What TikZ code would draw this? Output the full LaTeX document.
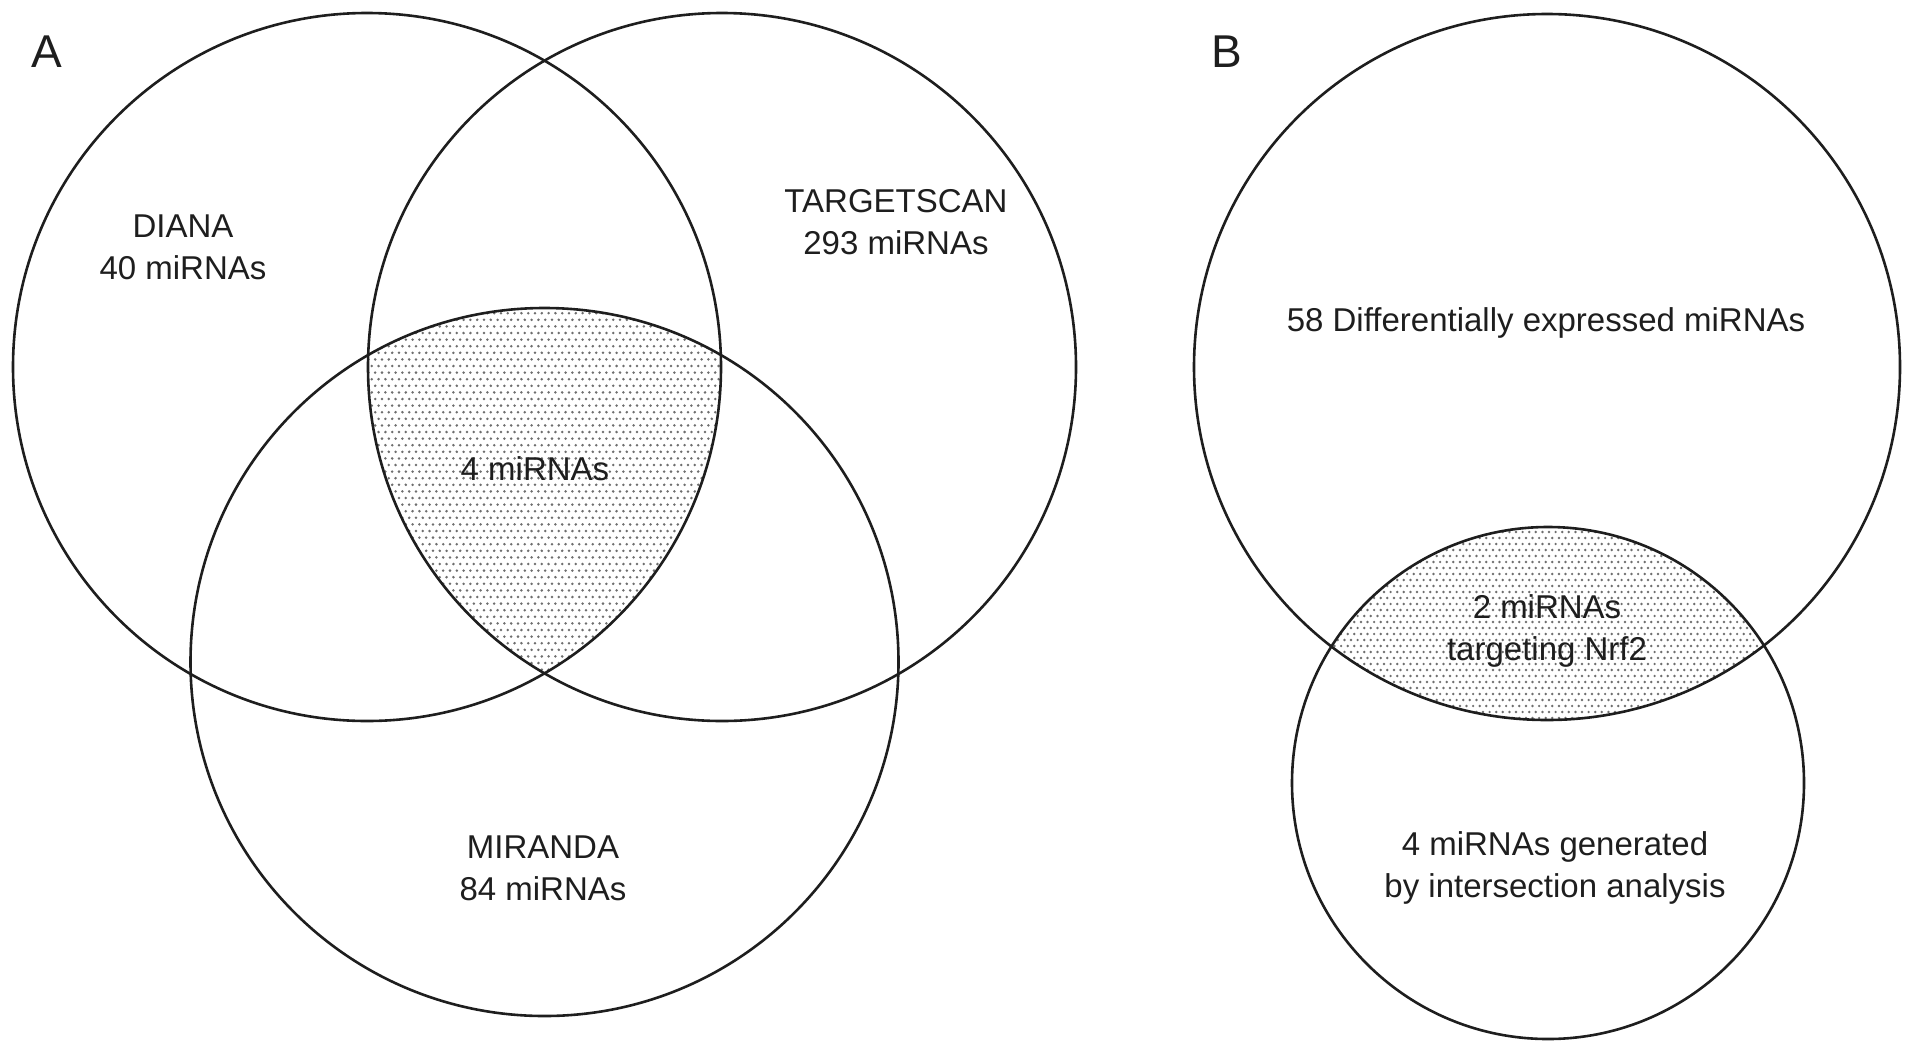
\documentclass[tikz,border=0pt]{standalone}
\usepackage{fontspec}
\setmainfont{Liberation Sans}
\definecolor{ink}{HTML}{1E1E1E}
\definecolor{dotc}{HTML}{6E6E6E}
\tikzset{
  venn/.style={draw=ink, line width=2.6pt},
  lbl/.style={text=ink, align=center, inner sep=0pt, font=\fontsize{33}{42}\selectfont},
  panel/.style={text=ink, inner sep=0pt, font=\fontsize{46}{50}\selectfont},
  dotfill/.style={fill=dotc}
}
\begin{document}
\begin{tikzpicture}[x=1pt,y=-1pt]
\useasboundingbox (0,0) rectangle (1913,1058);
% centres
\coordinate (c1) at (367,367);
\coordinate (c2) at (722,367);
\coordinate (c3) at (544.5,662);
\coordinate (b1) at (1547,367);
\coordinate (b2) at (1548,783);
% shading A
\begin{scope}
  \clip (c1) circle (354);
  \clip (c2) circle (354);
  \clip (c3) circle (354);
  \foreach \j in {0,...,66} {
    \foreach \i in {0,...,52} {
      \fill[dotfill] ({365+6.8*\i+3.4*mod(\j,2)},{300+6.6*\j}) circle (1.4);
    }
  }
\end{scope}
% shading B
\begin{scope}
  \clip (b1) circle (353);
  \clip (b2) circle (256);
  \foreach \j in {0,...,34} {
    \foreach \i in {0,...,80} {
      \fill[dotfill] ({1285+6.6*\i+3.3*mod(\j,2)},{520+6.0*\j}) circle (1.35);
    }
  }
\end{scope}
% circles
\draw[venn] (c1) circle (354);
\draw[venn] (c2) circle (354);
\draw[venn] (c3) circle (354);
\draw[venn] (b1) circle (353);
\draw[venn] (b2) circle (256);
% labels
\node[panel] (pA) at (47,52) {A};
\node[panel] (pB) at (1227,52) {B};
\node[lbl] (diana) at (183,247) {DIANA\\40 miRNAs};
\node[lbl] (tscan) at (896,222) {TARGETSCAN\\293 miRNAs};
\node[lbl] (core) at (535,469) {4 miRNAs};
\node[lbl] (miranda) at (543,868) {MIRANDA\\84 miRNAs};
\node[lbl] (dem) at (1546,323) {58 Differentially expressed miRNAs};
\node[lbl] (nrf) at (1547,631) {2 miRNAs\\targeting Nrf2};
\node[lbl] (gen) at (1555,868) {4 miRNAs generated\\by intersection analysis};
\end{tikzpicture}
\end{document}
